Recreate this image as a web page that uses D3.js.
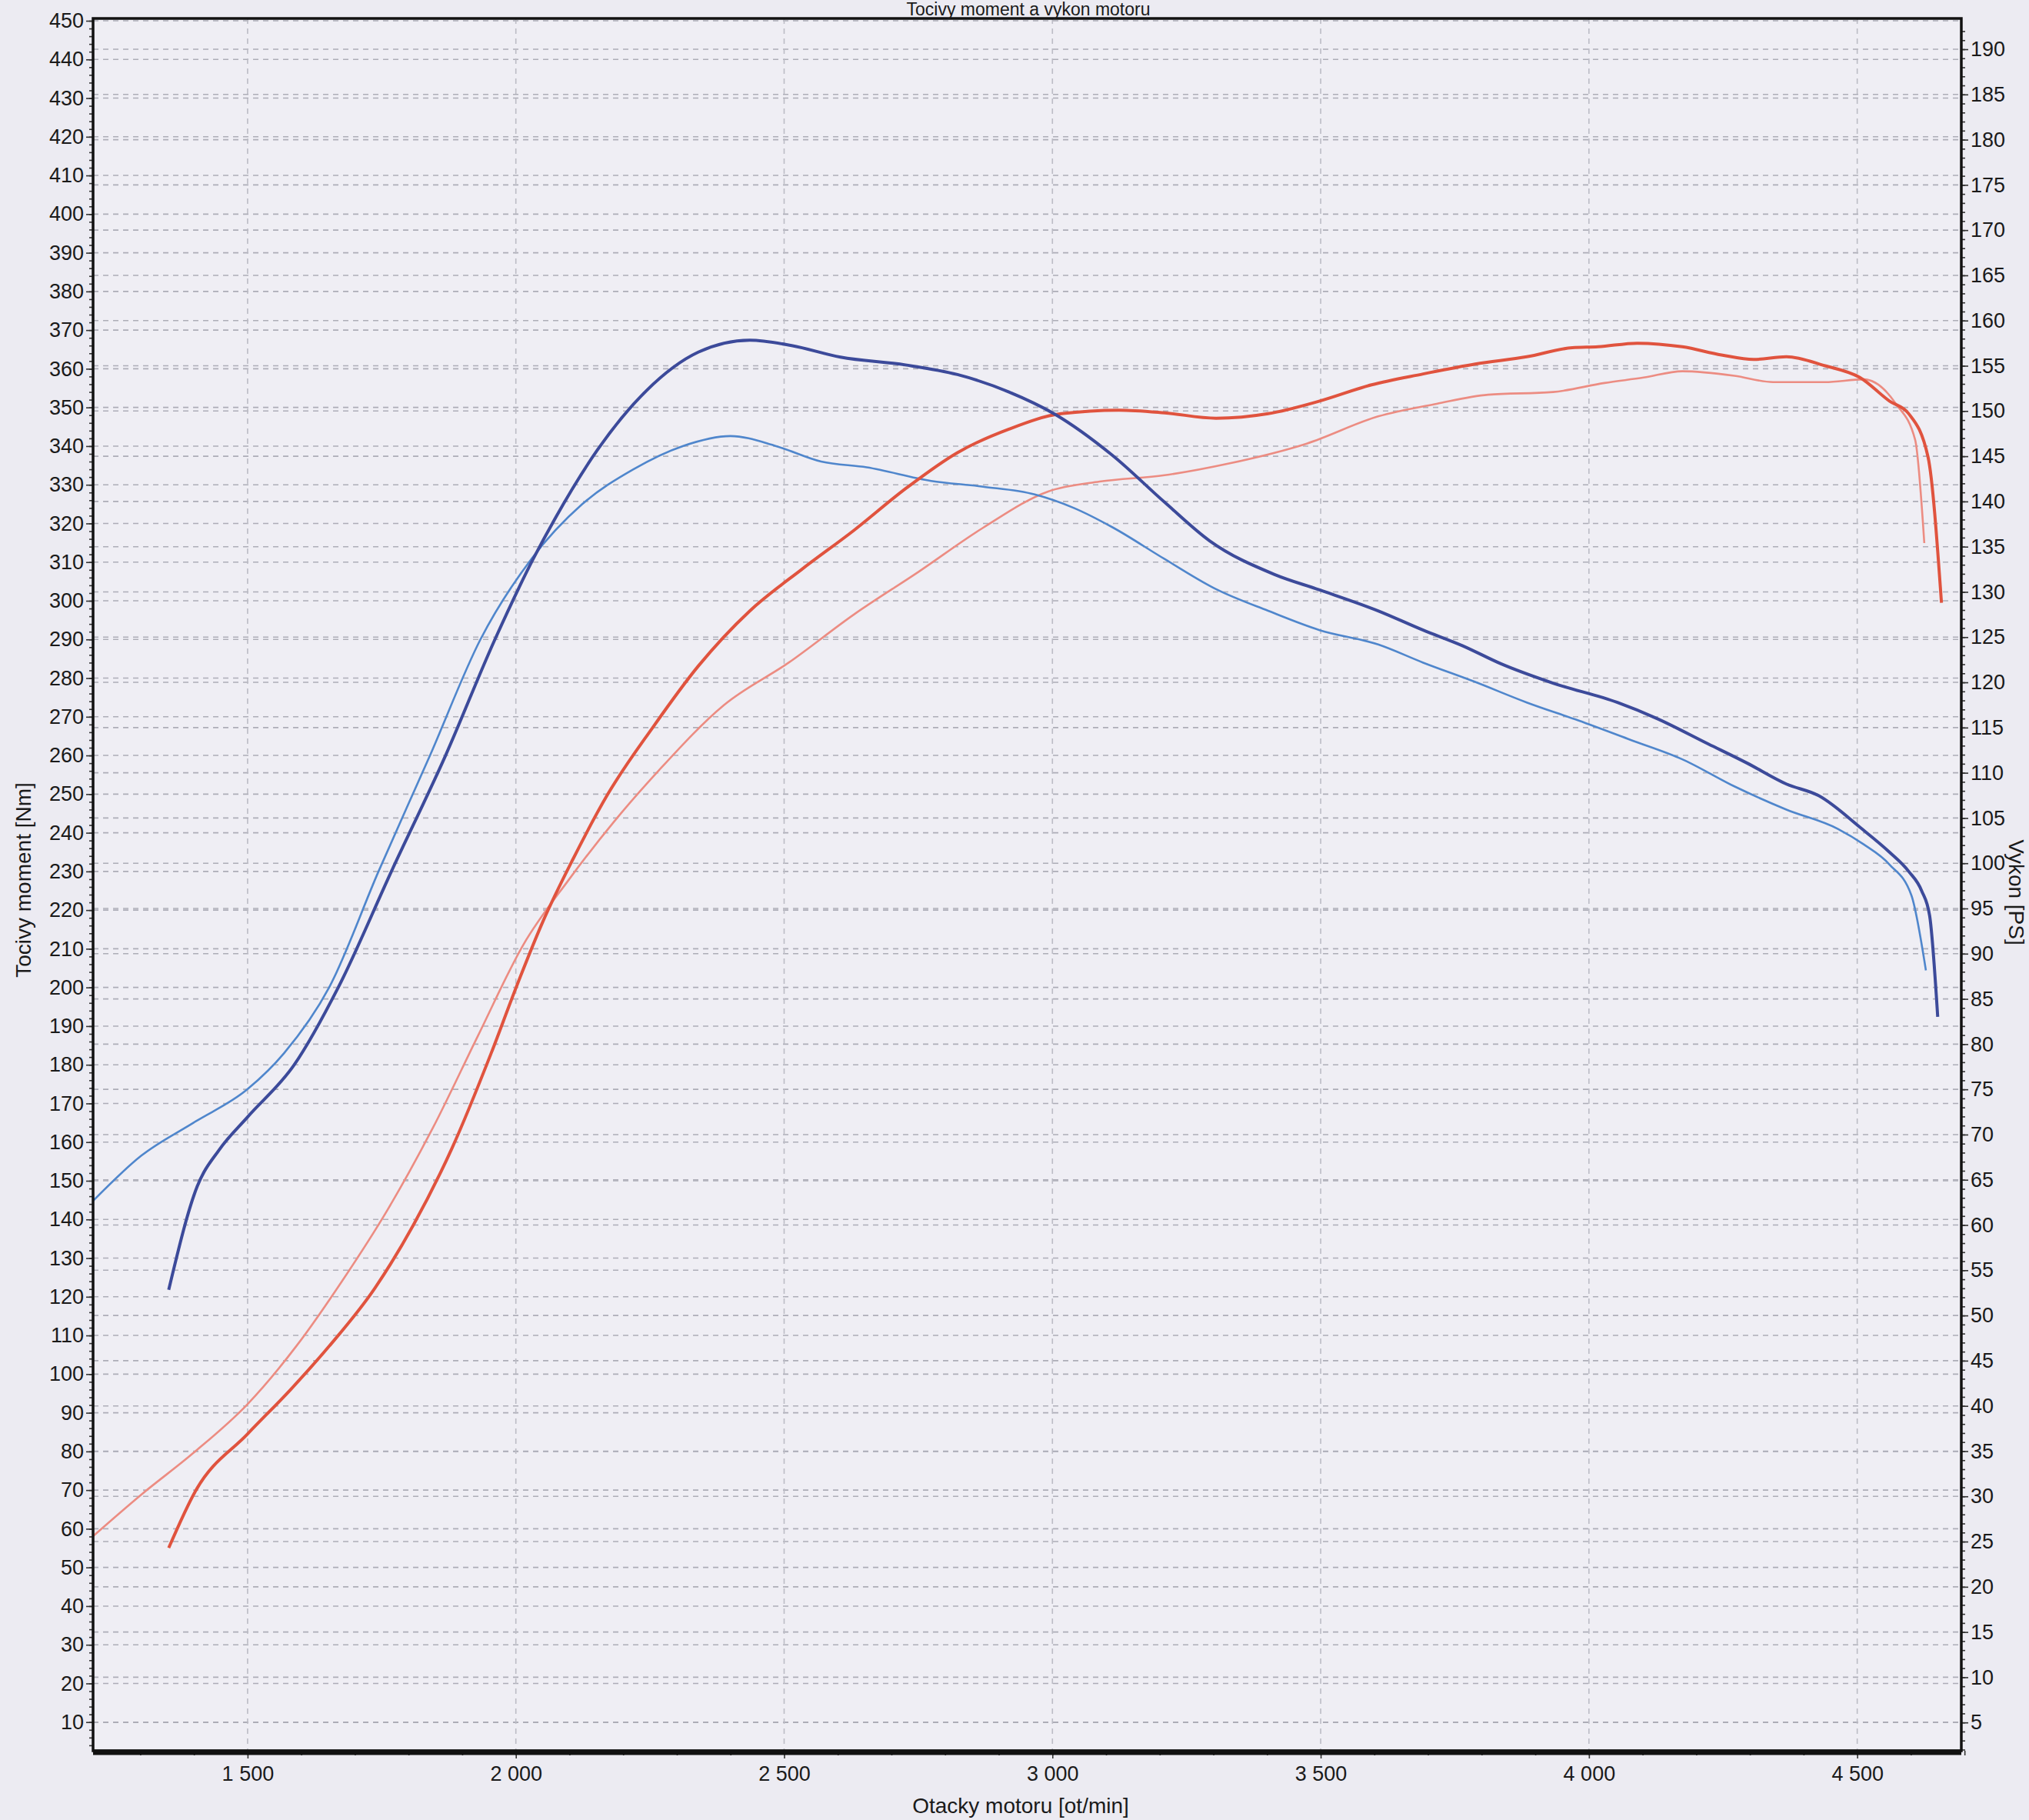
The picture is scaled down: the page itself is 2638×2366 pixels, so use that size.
<!DOCTYPE html>
<html>
<head>
<meta charset="utf-8">
<script src="https://cdn.jsdelivr.net/npm/d3@7"></script>
<style>
  body { margin: 0; background: #ecebf2; }
  text { font-family: "Liberation Sans", Arial, sans-serif; fill: #1a1a1a; }
</style>
</head>
<body>
<div id="chart"></div>
<script>
// tick labels
const rpmTicks = [1500, 2000, 2500, 3000, 3500, 4000, 4500];
const nmTicks = d3.range(10, 451, 10);
const psTicks = d3.range(5, 191, 5);

// torque [rpm, Nm] - light blue (thin) and dark blue (thick)
const torqueA = [[1212,144.8],[1302,156.5],[1399,165],[1500,173.7],[1568,183],[1652,200],[1744,230],[1840,260],[1934,290],[2030,311],[2123,324.9],[2219,334],[2311,340],[2400,342.6],[2485,340],[2569,336],[2654,334.5],[2774,331],[2871,329.5],[2967,327.5],[3040,324],[3112,319],[3209,310.8],[3305,303],[3402,297.4],[3498,292.4],[3607,288.7],[3691,284],[3788,279],[3884,273.7],[3981,269],[4078,264],[4174,259],[4271,252],[4368,246],[4464,241],[4512,237],[4560,231.8],[4601,223.8],[4628,204.4]];
const torqueB = [[1353,121.8],[1406,148.5],[1447,158],[1500,166.5],[1587,180],[1669,200],[1768,230],[1869,260],[1961,290],[2033,311],[2074,321.5],[2152,339],[2243,354.3],[2340,364.3],[2436,367.4],[2514,366],[2605,363],[2726,361],[2823,358.5],[2919,354],[3004,348.3],[3112,337.6],[3209,325.5],[3293,315.5],[3414,306.8],[3498,302.8],[3607,297.4],[3691,292.4],[3764,288.4],[3836,283.7],[3933,278.7],[4053,273.7],[4126,269.6],[4222,263],[4295,258],[4368,252.6],[4428,249.6],[4507,241.2],[4560,235],[4596,230],[4620,225],[4635,218.5],[4650,192.4]];

// power [rpm, PS] - light red (thin) and red (thick)
const powerA = [[1212,25.6],[1302,30.2],[1399,34.8],[1500,40.2],[1592,46.7],[1676,53.8],[1761,61.7],[1845,70.7],[1930,81],[2014,91],[2099,98.2],[2183,104.6],[2267,110.3],[2388,117.5],[2509,122.2],[2630,127.5],[2750,132.2],[2871,137.1],[2992,141.1],[3088,142.2],[3209,142.9],[3329,144.2],[3474,146.4],[3607,149.4],[3716,150.8],[3812,151.8],[3933,152.1],[4029,153.1],[4102,153.7],[4174,154.4],[4271,153.9],[4343,153.2],[4440,153.2],[4512,153.5],[4572,150.8],[4608,146.8],[4625,135.4]];
const powerB = [[1353,24.3],[1403,30.6],[1500,36.9],[1580,41.8],[1652,46.6],[1737,53],[1809,60],[1881,68.5],[1954,79],[2002,86.5],[2050,93.5],[2106,100.4],[2171,107.6],[2255,115],[2340,121.8],[2436,127.9],[2533,132.5],[2630,136.8],[2726,141.4],[2823,145.4],[2919,148],[3016,149.7],[3124,150.1],[3209,149.8],[3305,149.2],[3402,149.7],[3498,151.1],[3595,152.9],[3691,154.1],[3788,155.2],[3884,156],[3969,157],[4017,157.1],[4090,157.5],[4174,157.1],[4247,156.2],[4307,155.7],[4368,156],[4440,155],[4505,153.7],[4560,151.1],[4596,149.7],[4632,144.9],[4657,128.8]];

const width = 2638, height = 2366;
const plotLeft = 121, plotRight = 2550, plotTop = 24, plotBottom = 2276;

const svg = d3.select('#chart').append('svg')
  .attr('width', width)
  .attr('height', height);

svg.append('rect').attr('width', width).attr('height', height).attr('fill', '#ecebf2');

const x = d3.scaleLinear().domain([1212, 4694]).range([plotLeft, plotRight]);
const yL = d3.scaleLinear().domain([0, 450]).range([2289, 27]);
const yR = d3.scaleLinear().domain([0, 190]).range([2298, 64]);

// plot background
svg.append('rect')
  .attr('x', plotLeft).attr('y', plotTop)
  .attr('width', plotRight - plotLeft).attr('height', plotBottom - plotTop)
  .attr('fill', '#efeef4');

// grid
const grid = svg.append('g').attr('stroke', '#adadb7').attr('stroke-width', 1.6).attr('stroke-dasharray', '7,6');
grid.selectAll('.gl').data(nmTicks).enter().append('line')
  .attr('x1', plotLeft).attr('x2', plotRight)
  .attr('y1', d => yL(d)).attr('y2', d => yL(d));
grid.selectAll('.gr').data(psTicks).enter().append('line')
  .attr('x1', plotLeft).attr('x2', plotRight)
  .attr('y1', d => yR(d)).attr('y2', d => yR(d));
grid.selectAll('.gx').data(rpmTicks).enter().append('line')
  .attr('x1', d => x(d)).attr('x2', d => x(d))
  .attr('y1', plotTop).attr('y2', plotBottom)
  .attr('stroke', '#bcbcc5');

// curves
const lineL = d3.line().x(d => x(d[0])).y(d => yL(d[1])).curve(d3.curveMonotoneX);
const lineR = d3.line().x(d => x(d[0])).y(d => yR(d[1])).curve(d3.curveMonotoneX);

svg.append('path').attr('d', lineR(powerA)).attr('fill', 'none').attr('stroke', '#ec8c82').attr('stroke-width', 2.6);
svg.append('path').attr('d', lineL(torqueA)).attr('fill', 'none').attr('stroke', '#4f86cc').attr('stroke-width', 2.6);
svg.append('path').attr('d', lineR(powerB)).attr('fill', 'none').attr('stroke', '#e0533e').attr('stroke-width', 4);
svg.append('path').attr('d', lineL(torqueB)).attr('fill', 'none').attr('stroke', '#3c4a9a').attr('stroke-width', 4);

// axes
const fmt = d => d3.format(',')(d).replace(',', ' ');

const axL = svg.append('g').attr('transform', `translate(${plotLeft},0)`)
  .call(d3.axisLeft(yL).tickValues(d3.range(4, 451, 2)).tickSize(5).tickFormat(''));
axL.append('g').call(d3.axisLeft(yL).tickValues(nmTicks).tickSize(9).tickPadding(3));

const axR = svg.append('g').attr('transform', `translate(${plotRight},0)`)
  .call(d3.axisRight(yR).tickValues(d3.range(2, 193, 1)).tickSize(5).tickFormat(''));
axR.append('g').call(d3.axisRight(yR).tickValues(psTicks).tickSize(9).tickPadding(3));

const axB = svg.append('g').attr('transform', `translate(0,${plotBottom})`)
  .call(d3.axisBottom(x).tickValues(d3.range(1300, 4701, 100)).tickSize(6).tickFormat(''));
axB.append('g').call(d3.axisBottom(x).tickValues(rpmTicks).tickSize(10).tickPadding(10).tickFormat(fmt));

svg.selectAll('.domain').remove();
svg.selectAll('.tick line').attr('stroke', '#333').attr('stroke-width', 1.6);
svg.selectAll('.tick text').attr('font-size', 27).attr('fill', '#1a1a1a')
  .style('font-family', '"Liberation Sans", Arial, sans-serif');

// frame
svg.append('rect')
  .attr('x', plotLeft).attr('y', plotTop)
  .attr('width', plotRight - plotLeft).attr('height', plotBottom - plotTop)
  .attr('fill', 'none').attr('stroke', '#111').attr('stroke-width', 3.5);
svg.append('line')
  .attr('x1', plotLeft).attr('x2', plotRight).attr('y1', plotBottom + 2).attr('y2', plotBottom + 2)
  .attr('stroke', '#111').attr('stroke-width', 7);

// titles
svg.append('text').attr('x', 1337).attr('y', 20).attr('text-anchor', 'middle')
  .attr('font-size', 23).text('Tocivy moment a vykon motoru');
svg.append('text').attr('x', 1327).attr('y', 2357).attr('text-anchor', 'middle')
  .attr('font-size', 28).text('Otacky motoru [ot/min]');
svg.append('text').attr('transform', 'translate(40,1144) rotate(-90)').attr('text-anchor', 'middle')
  .attr('font-size', 28).text('Tocivy moment [Nm]');
svg.append('text').attr('transform', 'translate(2612,1160) rotate(90)').attr('text-anchor', 'middle')
  .attr('font-size', 28).text('Vykon [PS]');
</script>
</body>
</html>
